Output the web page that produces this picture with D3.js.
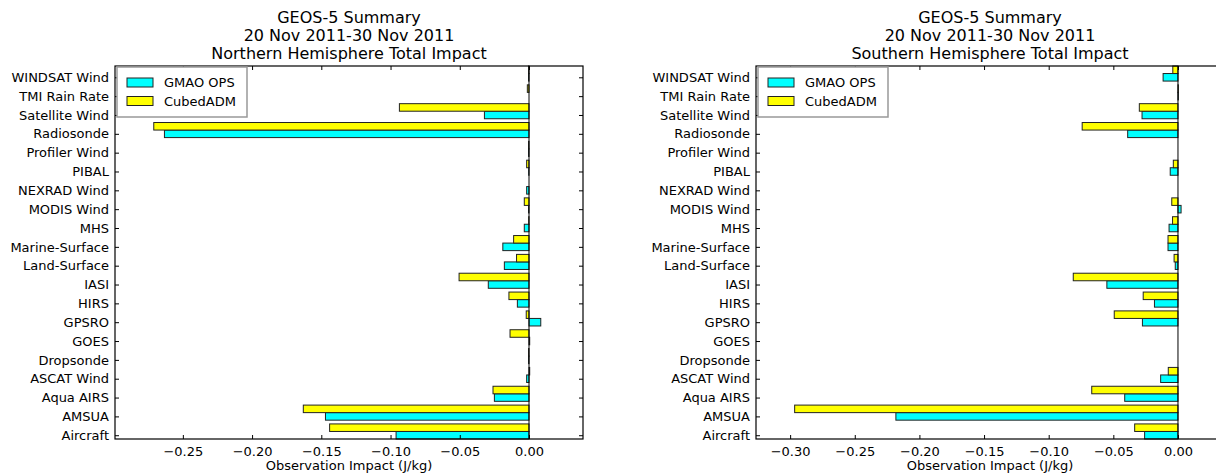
<!DOCTYPE html>
<html>
<head>
<meta charset="utf-8">
<script src="https://cdn.jsdelivr.net/npm/d3@7/dist/d3.min.js"></script>
<style>
  html, body { margin: 0; padding: 0; background: #fff; }
  svg { display: block; font-family: "DejaVu Sans", sans-serif; }
</style>
</head>
<body>
<svg id="chart" width="1216" height="473"></svg>
<script>
// Categories, bottom to top
const categories = ["Aircraft", "AMSUA", "Aqua AIRS", "ASCAT Wind", "Dropsonde", "GOES", "GPSRO",
  "HIRS", "IASI", "Land-Surface", "Marine-Surface", "MHS", "MODIS Wind", "NEXRAD Wind", "PIBAL",
  "Profiler Wind", "Radiosonde", "Satellite Wind", "TMI Rain Rate", "WINDSAT Wind"];

const seriesNames = ["GMAO OPS", "CubedADM"];

// Northern Hemisphere (J/kg)
const nhOps = [-0.096, -0.147, -0.025, -0.0017, -0.0003, 0.0005, 0.0085,
  -0.0084, -0.0294, -0.0178, -0.0189, -0.0034, -0.0003, -0.0017, -0.0002,
  -0.0003, -0.2633, -0.0322, 0.0000, -0.0003];
const nhCubed = [-0.144, -0.163, -0.026, 0.0005, -0.0003, -0.0137, -0.002,
  -0.0145, -0.0505, -0.009, -0.0111, -0.0002, -0.0034, 0.0000, -0.0017,
  -0.0003, -0.271, -0.0936, -0.0012, -0.0003];

// Southern Hemisphere (J/kg)
const shOps = [-0.0258, -0.2182, -0.0412, -0.0134, 0.0000, 0.0000, -0.0275,
  -0.0182, -0.055, -0.0021, -0.0077, -0.0069, 0.0024, 0.0000, -0.006,
  0.0000, -0.0389, -0.0278, 0.0003, -0.0115];
const shCubed = [-0.0335, -0.2965, -0.0667, -0.0075, 0.0000, 0.0000, -0.0493,
  -0.0269, -0.081, -0.003, -0.0077, -0.0042, -0.0048, 0.0000, -0.0036,
  0.0000, -0.0741, -0.0299, 0.0003, -0.004];

const nhTicks = [-0.25, -0.20, -0.15, -0.10, -0.05, 0.00];
const shTicks = [-0.30, -0.25, -0.20, -0.15, -0.10, -0.05, 0.00];

const titleLines = ["GEOS-5 Summary", "20 Nov 2011-30 Nov 2011"];
const nhTitle = "Northern Hemisphere Total Impact";
const shTitle = "Southern Hemisphere Total Impact";
const xLabel = "Observation Impact (J/kg)";

const colors = ["#00ffff", "#ffff00"];

const svg = d3.select("#chart");

function panel(cfg) {
  const { left, right, top, bottom, xDomain, ops, cubed, ticks, title } = cfg;
  const g = svg.append("g");
  const x = d3.scaleLinear().domain(xDomain).range([left, right]);
  const y = d3.scaleLinear().domain([0, categories.length - 0.2]).range([bottom, top]);
  const bh = 0.4;

  // bars
  const series = [ops, cubed];
  series.forEach((vals, s) => {
    g.append("g").selectAll("rect").data(vals).join("rect")
      .attr("x", d => x(Math.min(0, d)))
      .attr("width", d => Math.abs(x(d) - x(0)))
      .attr("y", (d, i) => y(i + bh * (s + 1)))
      .attr("height", (d, i) => y(i + bh * s) - y(i + bh * (s + 1)))
      .attr("fill", colors[s])
      .attr("stroke", "#222")
      .attr("stroke-width", 1);
  });

  // zero line
  g.append("line")
    .attr("x1", x(0)).attr("x2", x(0))
    .attr("y1", top).attr("y2", bottom)
    .attr("stroke", "#000").attr("stroke-width", 1);

  // axes
  const fmt = d => d3.format(".2f")(d).replace("-", "\u2212");
  const xAxisB = d3.axisBottom(x).tickValues(ticks).tickFormat(fmt).tickSizeInner(-4).tickSizeOuter(0).tickPadding(8);
  const xAxisT = d3.axisTop(x).tickValues(ticks).tickFormat("").tickSizeInner(-4).tickSizeOuter(0);
  const yTickVals = categories.map((c, i) => i + 0.2);
  const yAxisL = d3.axisLeft(y).tickValues(yTickVals).tickFormat((d, i) => categories[i]).tickSizeInner(-4).tickSizeOuter(0).tickPadding(6);
  const yAxisR = d3.axisRight(y).tickValues(yTickVals).tickFormat("").tickSizeInner(-4).tickSizeOuter(0);

  const styleAxis = sel => {
    sel.select(".domain").remove();
    sel.selectAll(".tick line").attr("stroke", "#000").attr("stroke-width", 1);
    sel.selectAll("text").attr("fill", "#000").style("font-size", "13px").style("font-family", "DejaVu Sans, sans-serif");
  };
  g.append("g").attr("transform", `translate(0,${bottom})`).call(xAxisB).call(styleAxis);
  g.append("g").attr("transform", `translate(0,${top})`).call(xAxisT).call(styleAxis);
  g.append("g").attr("transform", `translate(${left},0)`).call(yAxisL).call(styleAxis);
  g.append("g").attr("transform", `translate(${right},0)`).call(yAxisR).call(styleAxis);

  // frame
  g.append("rect")
    .attr("x", left).attr("y", top)
    .attr("width", right - left).attr("height", bottom - top)
    .attr("fill", "none").attr("stroke", "#000").attr("stroke-width", 1.2);

  // title
  const cx = (left + right) / 2;
  const lines = titleLines.concat([title]);
  lines.forEach((t, k) => {
    g.append("text").attr("x", cx).attr("y", 23 + k * 18)
      .attr("text-anchor", "middle").style("font-size", "16px").attr("fill", "#000").text(t);
  });

  // x label
  g.append("text").attr("x", cx).attr("y", bottom + 31)
    .attr("text-anchor", "middle").style("font-size", "13px").attr("fill", "#000").text(xLabel);

  // legend
  const lx = left + 2, ly = top + 1;
  const leg = g.append("g");
  leg.append("rect").attr("x", lx).attr("y", ly).attr("width", 130).attr("height", 50)
    .attr("fill", "#fff").attr("stroke", "#999").attr("stroke-width", 1.5);
  seriesNames.forEach((n, s) => {
    leg.append("rect").attr("x", lx + 10).attr("y", ly + 11 + s * 18.5).attr("width", 26).attr("height", 9)
      .attr("fill", colors[s]).attr("stroke", "#222").attr("stroke-width", 1);
    leg.append("text").attr("x", lx + 47).attr("y", ly + 20 + s * 18.5)
      .style("font-size", "13px").attr("fill", "#000").text(n);
  });
}

panel({ left: 115, right: 583, top: 66, bottom: 439, xDomain: [-0.299, 0.039],
  ops: nhOps, cubed: nhCubed, ticks: nhTicks, title: nhTitle });
panel({ left: 756, right: 1224, top: 66, bottom: 439, xDomain: [-0.3264, 0.0356],
  ops: shOps, cubed: shCubed, ticks: shTicks, title: shTitle });
</script>
</body>
</html>
